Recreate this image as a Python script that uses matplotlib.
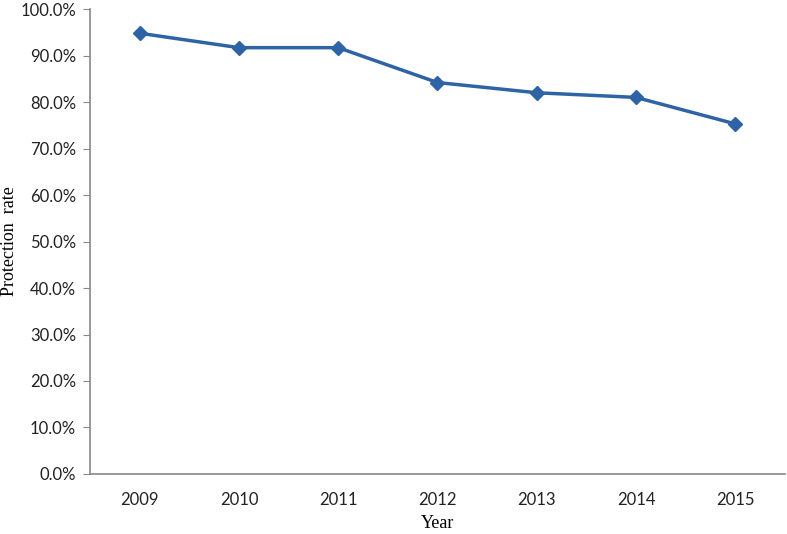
import numpy as np
import matplotlib
matplotlib.use("Agg")
from matplotlib import pyplot as plt
from matplotlib.ticker import FuncFormatter

# values
years = ["2009", "2010", "2011", "2012", "2013", "2014", "2015"]
rate = [94.8, 91.7, 91.7, 84.2, 82.0, 81.0, 75.3]

fig = plt.figure(figsize=(7.87, 5.34), dpi=100)
ax = fig.add_axes([0.1144, 0.1124, 0.883, 0.8706])

x = np.arange(len(years))
ax.plot(x, rate, color="#2e63a6", linewidth=2.5, marker="D", markersize=7)

ax.set_xlim(-0.5, len(years) - 0.5)
ax.set_ylim(0, 100)
ax.set_yticks(np.arange(0, 101, 10))
ax.yaxis.set_major_formatter(FuncFormatter(lambda v, p: "%.1f%%" % v))
ax.set_xticks(x)
ax.set_xticklabels(years)

for s in ["top", "right"]:
    ax.spines[s].set_visible(False)
for s in ["left", "bottom"]:
    ax.spines[s].set_color("#888888")
    ax.spines[s].set_linewidth(1.2)

ax.tick_params(axis="y", length=5, color="#888888", labelsize=12, pad=5)
ax.tick_params(axis="x", length=0, labelsize=12, pad=13)
for lab in ax.get_xticklabels() + ax.get_yticklabels():
    lab.set_family("Lato")
    lab.set_color("#222222")

ax.set_xlabel("Year", family="Liberation Serif", fontsize=13, labelpad=5)
ax.set_ylabel("Protection  rate", family="Liberation Serif", fontsize=13)
ax.yaxis.set_label_coords(-0.104, 0.5)

fig.savefig("out.png", dpi=100)
